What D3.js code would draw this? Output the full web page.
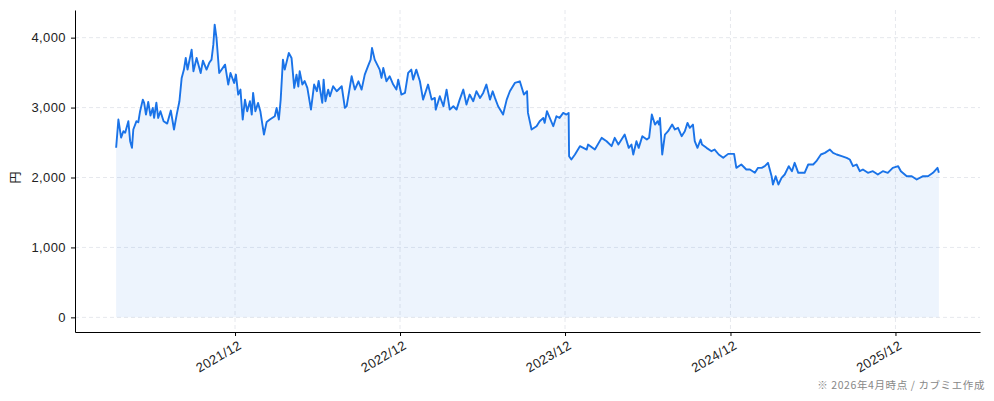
<!DOCTYPE html>
<html>
<head>
<meta charset="utf-8">
<script src="https://cdn.jsdelivr.net/npm/d3@7"></script>
<style>
  body { margin: 0; background: #fff; }
  svg { display: block; font-family: "Noto Sans CJK JP", "Noto Sans", sans-serif; }
</style>
</head>
<body>
<svg id="chart" width="994" height="401"></svg>
<script>
// price readings (date, yen)
var dates = [
  "2021-03-13","2021-03-18","2021-03-24","2021-03-29","2021-04-02","2021-04-09","2021-04-13","2021-04-17","2021-04-20","2021-04-27",
  "2021-05-01","2021-05-05","2021-05-11","2021-05-14","2021-05-18","2021-05-23","2021-05-28","2021-06-02","2021-06-05","2021-06-10",
  "2021-06-14","2021-06-19","2021-06-26","2021-07-04","2021-07-12","2021-07-19","2021-07-25","2021-07-31","2021-08-05","2021-08-10",
  "2021-08-14","2021-08-18","2021-08-27","2021-08-31","2021-09-07","2021-09-16","2021-09-21","2021-09-29","2021-10-05","2021-10-10",
  "2021-10-14","2021-10-17","2021-10-21","2021-10-27","2021-11-09","2021-11-16","2021-11-21","2021-11-29","2021-12-03","2021-12-08",
  "2021-12-13","2021-12-18","2021-12-23","2021-12-28","2022-01-03","2022-01-07","2022-01-10","2022-01-15","2022-01-21","2022-01-26",
  "2022-02-03","2022-02-09","2022-02-16","2022-02-27","2022-03-03","2022-03-08","2022-03-12","2022-03-17","2022-03-21","2022-03-30",
  "2022-04-05","2022-04-11","2022-04-16","2022-04-20","2022-04-23","2022-04-29","2022-05-04","2022-05-10","2022-05-18","2022-05-25",
  "2022-05-31","2022-06-04","2022-06-12","2022-06-15","2022-06-19","2022-06-25","2022-06-29","2022-07-06","2022-07-14","2022-07-25",
  "2022-08-01","2022-08-05","2022-08-16","2022-08-23","2022-08-31","2022-09-07","2022-09-14","2022-09-21","2022-09-27","2022-09-30",
  "2022-10-06","2022-10-17","2022-10-21","2022-10-25","2022-11-01","2022-11-08","2022-11-16","2022-11-23","2022-11-27","2022-12-04",
  "2022-12-12","2022-12-19","2022-12-26","2022-12-30","2023-01-06","2023-01-14","2023-01-21","2023-02-01","2023-02-09","2023-02-16",
  "2023-02-18","2023-02-27","2023-03-07","2023-03-14","2023-03-21","2023-03-29","2023-04-05","2023-04-12","2023-04-20","2023-04-27",
  "2023-05-04","2023-05-12","2023-05-19","2023-05-27","2023-06-03","2023-06-10","2023-06-18","2023-06-24","2023-06-29","2023-07-06",
  "2023-07-17","2023-07-25","2023-08-01","2023-08-12","2023-08-23","2023-09-01","2023-09-08","2023-09-10","2023-09-18","2023-09-29",
  "2023-10-06","2023-10-14","2023-10-17","2023-10-22","2023-11-05","2023-11-12","2023-11-19","2023-11-27","2023-12-04","2023-12-09",
  "2023-12-10","2023-12-15","2023-12-23","2024-01-03","2024-01-18","2024-01-21","2024-02-05","2024-02-20","2024-03-02","2024-03-13",
  "2024-03-20","2024-03-28","2024-04-11","2024-04-20","2024-04-26","2024-04-30","2024-05-07","2024-05-12","2024-05-20","2024-05-30",
  "2024-06-04","2024-06-10","2024-06-17","2024-06-23","2024-06-26","2024-06-28","2024-07-03","2024-07-09","2024-07-16","2024-07-25",
  "2024-07-31","2024-08-07","2024-08-15","2024-08-22","2024-08-28","2024-09-02","2024-09-09","2024-09-13","2024-09-19","2024-09-26",
  "2024-09-29","2024-10-09","2024-10-20","2024-10-27","2024-11-05","2024-11-15","2024-11-26","2024-12-09","2024-12-14","2024-12-25",
  "2025-01-05","2025-01-13","2025-01-24","2025-01-31","2025-02-08","2025-02-15","2025-02-22","2025-03-02","2025-03-05","2025-03-11",
  "2025-03-17","2025-03-24","2025-03-31","2025-04-09","2025-04-16","2025-04-22","2025-04-30","2025-05-14","2025-05-22","2025-06-02",
  "2025-06-09","2025-06-19","2025-06-28","2025-07-09","2025-07-16","2025-07-24","2025-08-04","2025-08-15","2025-08-22","2025-08-29",
  "2025-09-06","2025-09-13","2025-09-20","2025-10-01","2025-10-12","2025-10-23","2025-11-03","2025-11-14","2025-11-25","2025-12-07",
  "2025-12-13","2025-12-26","2026-01-06","2026-01-17","2026-01-31","2026-02-11","2026-02-22","2026-03-04","2026-03-07"
];
var prices = [
  2425,2829,2571,2662,2640,2805,2519,2424,2686,2805,
  2790,2948,3114,3067,2900,3080,2886,2995,2852,3070,
  2852,2948,2805,2771,2957,2686,2900,3090,3424,3543,
  3710,3543,3829,3520,3710,3495,3670,3543,3640,3686,
  3900,4186,3995,3495,3614,3329,3495,3352,3472,3186,
  3257,2829,3114,2948,3090,2900,3210,2948,3067,2948,
  2614,2795,2829,2876,2995,2829,3114,3686,3543,3781,
  3710,3281,3471,3300,3519,3329,3380,3281,2971,3329,
  3234,3380,3067,3400,3090,3257,3162,3305,3233,3305,
  2995,3020,3448,3257,3376,3257,3471,3590,3686,3852,
  3686,3543,3424,3567,3376,3448,3329,3257,3400,3186,
  3210,3495,3543,3400,3543,3376,3114,3329,3114,3138,
  2971,3162,3019,3257,2971,3019,2971,3114,3257,3043,
  3186,3090,3233,3138,3210,3329,3114,3233,3138,3019,
  2900,3114,3233,3352,3376,3186,3233,2924,2686,2733,
  2805,2852,2781,2948,2733,2876,2852,2924,2900,2924,
  2305,2257,2329,2448,2400,2471,2400,2567,2519,2448,
  2567,2471,2614,2424,2471,2329,2519,2424,2590,2543,
  2567,2900,2757,2805,2757,2852,2329,2614,2662,2757,
  2686,2710,2590,2662,2781,2710,2757,2519,2424,2543,
  2471,2424,2376,2400,2329,2281,2338,2338,2138,2186,
  2114,2114,2067,2138,2138,2162,2210,2019,1900,2019,
  1900,1995,2043,2162,2090,2210,2067,2067,2186,2186,
  2233,2329,2352,2400,2352,2329,2305,2281,2257,2162,
  2186,2090,2114,2067,2090,2043,2090,2067,2138,2162,
  2090,2019,2019,1971,2019,2019,2067,2138,2067
];
var tickDates = ["2021-12-01", "2022-12-01", "2023-12-01", "2024-12-01", "2025-12-01"];
var yTicks = [0, 1000, 2000, 3000, 4000];
var yLabel = "円";
var footnote = "※ 2026年4月時点 / カブミエ作成";

(function() {
  var parse = d3.timeParse("%Y-%m-%d");
  var data = dates.map(function(d, i) { return { date: parse(d), value: prices[i] }; });

  var svg = d3.select("#chart");
  var pLeft = 75, pRight = 980, pTop = 10, pBottom = 332;

  // 5% margins like the original plot
  var ext = d3.extent(data, function(d) { return d.date; });
  var span = ext[1] - ext[0];
  var x = d3.scaleTime()
    .domain([new Date(+ext[0] - span * 0.05), new Date(+ext[1] + span * 0.05)])
    .range([pLeft, pRight]);

  var ymax = d3.max(prices);
  var y = d3.scaleLinear()
    .domain([0 - ymax * 0.05, ymax * 1.05])
    .range([pBottom, pTop]);

  var ticksX = tickDates.map(parse);

  // grid
  var grid = svg.append("g");
  grid.selectAll("line.h").data(yTicks).enter().append("line")
    .attr("x1", pLeft).attr("x2", pRight)
    .attr("y1", function(d) { return y(d); }).attr("y2", function(d) { return y(d); })
    .style("stroke", "#dfe2e8").style("stroke-width", 0.8).style("stroke-dasharray", "4,3");
  grid.selectAll("line.v").data(ticksX).enter().append("line")
    .attr("x1", function(d) { return x(d); }).attr("x2", function(d) { return x(d); })
    .attr("y1", pTop).attr("y2", pBottom)
    .style("stroke", "#dfe2e8").style("stroke-width", 0.8).style("stroke-dasharray", "4,3");

  // area + line
  svg.append("path").datum(data)
    .attr("d", d3.area().x(function(d) { return x(d.date); }).y0(y(0)).y1(function(d) { return y(d.value); }))
    .style("fill", "#1a73e8").style("fill-opacity", 0.08);

  svg.append("path").datum(data)
    .attr("d", d3.line().x(function(d) { return x(d.date); }).y(function(d) { return y(d.value); }))
    .style("fill", "none").style("stroke", "#1a73e8").style("stroke-width", 1.9)
    .style("stroke-linejoin", "round");

  // axes
  var xAxis = svg.append("g").attr("transform", "translate(0," + pBottom + ")")
    .call(d3.axisBottom(x).tickValues(ticksX).tickFormat(d3.timeFormat("%Y/%m")).tickSize(4).tickSizeOuter(0));
  xAxis.selectAll("text")
    .style("font-size", "13px").style("fill", "#222").style("letter-spacing", "0.4px")
    .attr("text-anchor", "end")
    .attr("x", -2).attr("y", 8).attr("dy", "0.71em")
    .attr("transform", "rotate(-30)");

  var yAxis = svg.append("g").attr("transform", "translate(" + pLeft + ",0)")
    .call(d3.axisLeft(y).tickValues(yTicks).tickFormat(d3.format(",")).tickSize(4).tickSizeOuter(0));
  yAxis.selectAll("text").style("font-size", "13px").style("fill", "#222")
    .style("letter-spacing", "0.4px").attr("x", -9);

  svg.selectAll(".domain").style("stroke", "#000").style("stroke-width", 1);
  svg.selectAll(".tick line").style("stroke", "#000");

  svg.append("text")
    .attr("transform", "translate(16," + y(2000) + ") rotate(-90)")
    .attr("text-anchor", "middle")
    .attr("dy", "0.35em")
    .style("font-size", "12px").style("fill", "#222")
    .text(yLabel);

  svg.append("text")
    .attr("x", 985).attr("y", 389)
    .attr("text-anchor", "end")
    .style("font-size", "10.5px").style("fill", "#888").style("letter-spacing", "0.6px")
    .text(footnote);
})();
</script>
</body>
</html>
